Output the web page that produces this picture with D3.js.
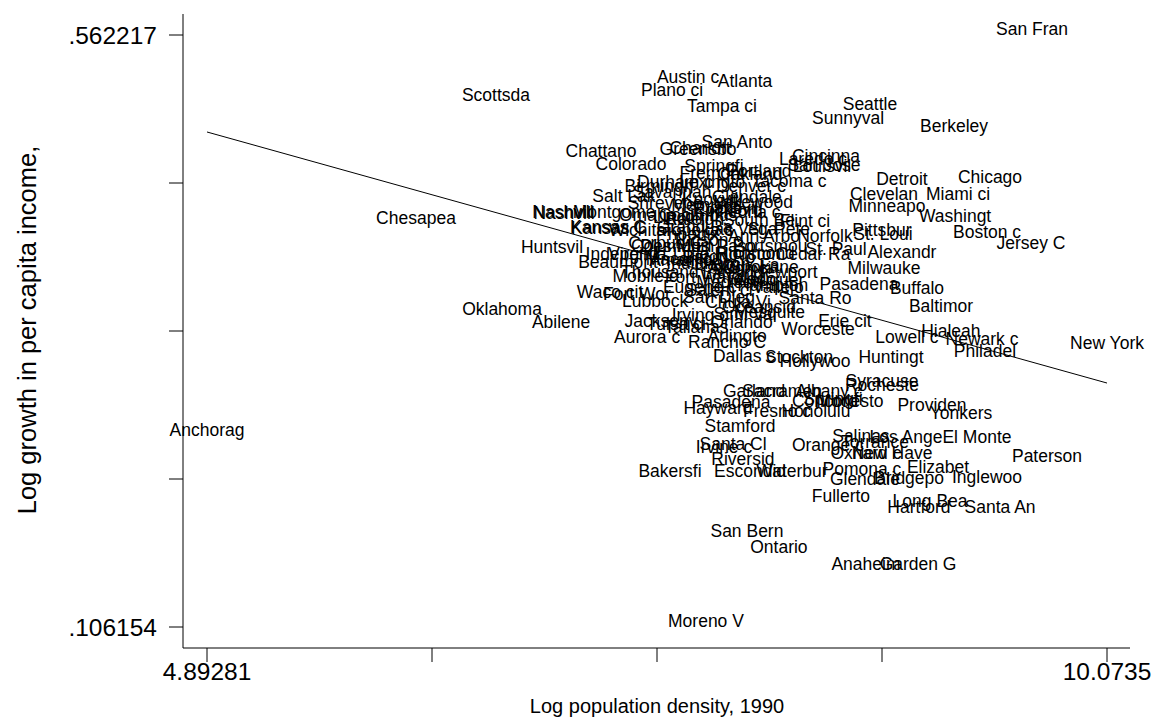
<!DOCTYPE html>
<html><head><meta charset="utf-8">
<script src="https://cdn.jsdelivr.net/npm/d3@7"></script>
<style>
body{margin:0;background:#fff;}
text{font-family:"Liberation Sans",Arial,Helvetica,sans-serif;fill:#000;}
</style></head><body>
<svg id="c" width="1151" height="719"></svg>
<script>
// city labels (truncated to 8 chars, as in the source)
const cities = [
"San Fran","Austin c","Atlanta","Plano ci","Tampa ci","Scottsda","Seattle","Sunnyval","Berkeley","Chattano",
"Colorado","San Anto","Charlott","Greensbo","Laredo c","Cincinna","Louisvil","San Jose","Detroit","Chicago",
"Clevelan","Miami ci","Minneapo","Washingt","Boston c","Jersey C","Pittsbur","St. Loui","Alexandr","Milwauke",
"Buffalo","Pasadena","Baltimor","Hialeah","Lowell c","Newark c","Philadel","New York","Huntingt","Syracuse",
"Rocheste","Albany c","Sacramen","Garland","Pasadena","Hayward","Fresno c","Concord","Springfi","Modesto",
"Honolulu","Providen","Yonkers","Stamford","Santa Cl","Irvine c","Orange c","Salinas","Los Ange","Torrance",
"Oxnard c","New Have","El Monte","Paterson","Elizabet","Inglewoo","Bridgepo","Glendale","Pomona c","Waterbur",
"Escondid","Bakersfi","Riversid","Fullerto","Long Bea","Hartford","Santa An","San Bern","Ontario","Anaheim",
"Garden G","Moreno V","Dallas c","Stockton","Hollywoo","Arlingto","Rancho C","Worceste","Erie cit","Oklahoma",
"Abilene","Aurora c","Jacksonv","Tulsa ci","Waco cit","Fort Wor","Lubbock","Mobile c","Huntsvil","Chesapea",
"Nashvill","Nashvill","Montgome","Kansas C","Kansas C","Salt Lak","Birmingh","Durham c","Springfi","Anchorag",
"Flint ci","St. Paul","Portsmou","Independ","Beaumont","Thousand","Fremont","Portland","Oakland","Denver c",
"Lexingto","Savannah","Lakewood","Glendale","Shrevepo","Memphis","Knoxvill","Evansvil","Columbus","Rockford",
"Lincoln","Raleigh","Omaha ci","Wichita","Topeka c","Peoria c","South Be","Las Vega","St. Pete","Ann Arbo",
"Norfolk","Corpus C","Columbus","Tucson c","El Paso","Phoenix","Virginia","Little R","Amarillo","Baton Ro",
"Houston","Cedar Ra","Tacoma c","Indianap","Sioux Fa","Spokane","Fort Way","Madison","Albuquer","Lansing",
"Vallejo","Eugene c","Salem ci","San Dieg","Chula Vi","Oceansid","Simi Val","Mesquite","Irving c","Tallahas",
"Orlando","Newport","Hampton","Richmond","Macon ci","Dayton","Toledo","Akron ci","Grand Ra","Des Moin",
"Santa Ro"
];
const logDensity = [
9.642,7.662,7.990,7.570,7.857,6.556,8.709,8.583,9.193,7.161,
7.334,7.944,7.731,7.719,8.381,8.456,8.433,8.444,8.893,9.400,
8.790,9.216,8.807,9.199,9.383,9.636,8.778,8.784,8.893,8.790,
8.980,8.646,9.118,9.175,8.922,9.354,9.371,10.0735,8.830,8.778,
8.778,8.473,8.203,8.042,7.909,7.834,8.174,8.450,8.496,8.594,
8.398,9.066,9.233,7.961,7.921,7.869,8.467,8.657,8.916,8.738,
8.686,8.836,9.325,9.728,9.101,9.383,8.934,8.680,8.663,8.260,
8.019,7.558,7.978,8.542,9.055,8.991,9.458,8.001,8.185,8.686,
8.986,7.765,7.984,8.301,8.393,7.944,7.886,8.410,8.565,6.591,
6.931,7.426,7.506,7.593,7.213,7.368,7.472,7.414,6.879,6.096,
6.942,6.948,7.236,7.201,7.207,7.293,7.495,7.587,7.811,4.89281,
8.335,8.514,8.134,7.282,7.259,7.50,7.80,8.07,8.018,8.024,
7.80,7.57,8.036,8.00,7.53,7.77,7.80,7.88,7.72,7.89,
7.62,7.70,7.48,7.37,7.72,8.01,8.07,7.967,8.185,8.099,
8.450,7.53,7.56,7.77,7.88,7.66,7.37,7.73,7.62,7.84,
8.01,8.381,8.243,7.73,7.99,8.10,7.73,7.90,8.13,7.92,
8.18,7.73,7.84,7.84,7.95,8.07,7.99,8.13,7.73,7.71,
7.97,8.22,8.15,8.05,7.62,7.86,8.02,7.96,7.70,7.60,
8.393
];
const logGrowth = [
0.5622,0.5252,0.5221,0.5152,0.5029,0.5114,0.5044,0.4936,0.4875,0.4682,
0.4582,0.4751,0.4705,0.4697,0.4620,0.4644,0.4567,0.4574,0.4466,0.4482,
0.4351,0.4351,0.4258,0.4181,0.4058,0.3973,0.4073,0.4043,0.3904,0.3781,
0.3627,0.3657,0.3488,0.3295,0.3249,0.3234,0.3141,0.3203,0.3095,0.2910,
0.2879,0.2833,0.2833,0.2833,0.2748,0.2702,0.2679,0.2756,0.2772,0.2756,
0.2679,0.2725,0.2664,0.2564,0.2425,0.2402,0.2417,0.2487,0.2479,0.2440,
0.2356,0.2356,0.2479,0.2332,0.2248,0.2171,0.2163,0.2155,0.2232,0.2217,
0.2217,0.2217,0.2309,0.2024,0.1986,0.1939,0.1939,0.1755,0.1631,0.1500,
0.1500,0.106154,0.3103,0.3095,0.3064,0.3257,0.3211,0.3311,0.3372,0.3465,
0.3365,0.3249,0.3372,0.3349,0.3596,0.3580,0.3527,0.3719,0.3943,0.4166,
0.4212,0.4205,0.4212,0.4097,0.4090,0.4335,0.4412,0.4443,0.4567,0.2533,
0.4143,0.3927,0.3950,0.3889,0.3827,0.3750,0.4512,0.4527,0.4505,0.4413,
0.4443,0.4366,0.4289,0.4327,0.4281,0.4266,0.4312,0.4243,0.4189,0.4227,
0.4173,0.4158,0.4189,0.4073,0.4073,0.4212,0.4150,0.4081,0.4081,0.4027,
0.4027,0.3973,0.3950,0.3996,0.3950,0.4042,0.3889,0.3889,0.3842,0.3865,
0.3889,0.3889,0.4451,0.3819,0.3804,0.3788,0.3711,0.3673,0.3688,0.3742,
0.3634,0.3634,0.3611,0.3557,0.3519,0.3480,0.3426,0.3442,0.3419,0.3326,
0.3365,0.3750,0.3650,0.3900,0.3850,0.3810,0.3700,0.3780,0.4100,0.3950,
0.3550
];
// linear fit endpoints
const fitX = [4.89281, 10.0735];
const fitY = [0.4875, 0.2941];
const xTickLabels = ["4.89281","10.0735"];
const yTickLabels = [".562217",".106154"];
const xTitle = "Log population density, 1990";
const yTitle = "Log growth in per capita income,";

const xMin = 4.89281, xMax = 10.0735, yMin = 0.106154, yMax = 0.562217;
const svg = d3.select("#c");
const x = d3.scaleLinear().domain([xMin, xMax]).range([207, 1107]);
const y = d3.scaleLinear().domain([yMin, yMax]).range([627, 35]);

// axes lines
const plotL = 183, plotB = 648, plotT = 14, plotR = 1130;
svg.append("line").attr("x1",plotL).attr("x2",plotL).attr("y1",plotT).attr("y2",plotB).attr("stroke","#000");
svg.append("line").attr("x1",plotL).attr("x2",plotR).attr("y1",plotB).attr("y2",plotB).attr("stroke","#000");

const xt = d3.range(5).map(i => xMin + (xMax - xMin) * i / 4);
const yt = d3.range(5).map(i => yMin + (yMax - yMin) * i / 4);
svg.selectAll(".xt").data(xt).enter().append("line")
  .attr("x1",d=>x(d)).attr("x2",d=>x(d)).attr("y1",plotB).attr("y2",plotB+14).attr("stroke","#000");
svg.selectAll(".yt").data(yt).enter().append("line")
  .attr("y1",d=>y(d)).attr("y2",d=>y(d)).attr("x1",plotL-14).attr("x2",plotL).attr("stroke","#000");
svg.append("text").attr("x",x(xMin)).attr("y",680).attr("text-anchor","middle").attr("font-size",24.5).text(xTickLabels[0]);
svg.append("text").attr("x",x(xMax)).attr("y",680).attr("text-anchor","middle").attr("font-size",24.5).text(xTickLabels[1]);
svg.append("text").attr("x",157).attr("y",y(yMax)+9).attr("text-anchor","end").attr("font-size",24.5).text(yTickLabels[0]);
svg.append("text").attr("x",157).attr("y",y(yMin)+9).attr("text-anchor","end").attr("font-size",24.5).text(yTickLabels[1]);

svg.append("text").attr("x",657).attr("y",713).attr("text-anchor","middle").attr("font-size",20).text(xTitle);
svg.append("text").attr("transform","translate(36,330) rotate(-90)").attr("text-anchor","middle").attr("font-size",25.5).text(yTitle);

// fit line
svg.append("line").attr("x1",x(fitX[0])).attr("y1",y(fitY[0])).attr("x2",x(fitX[1])).attr("y2",y(fitY[1]))
  .attr("stroke","#000").attr("stroke-width",1);

// labels
const pts = cities.map((c,i)=>({c, dx: logDensity[i], gy: logGrowth[i]}));
svg.selectAll(".lab").data(pts).enter().append("text")
  .attr("x",d=>x(d.dx)).attr("y",d=>y(d.gy)).attr("text-anchor","middle")
  .attr("font-size",17.5).text(d=>d.c);
</script></body></html>
